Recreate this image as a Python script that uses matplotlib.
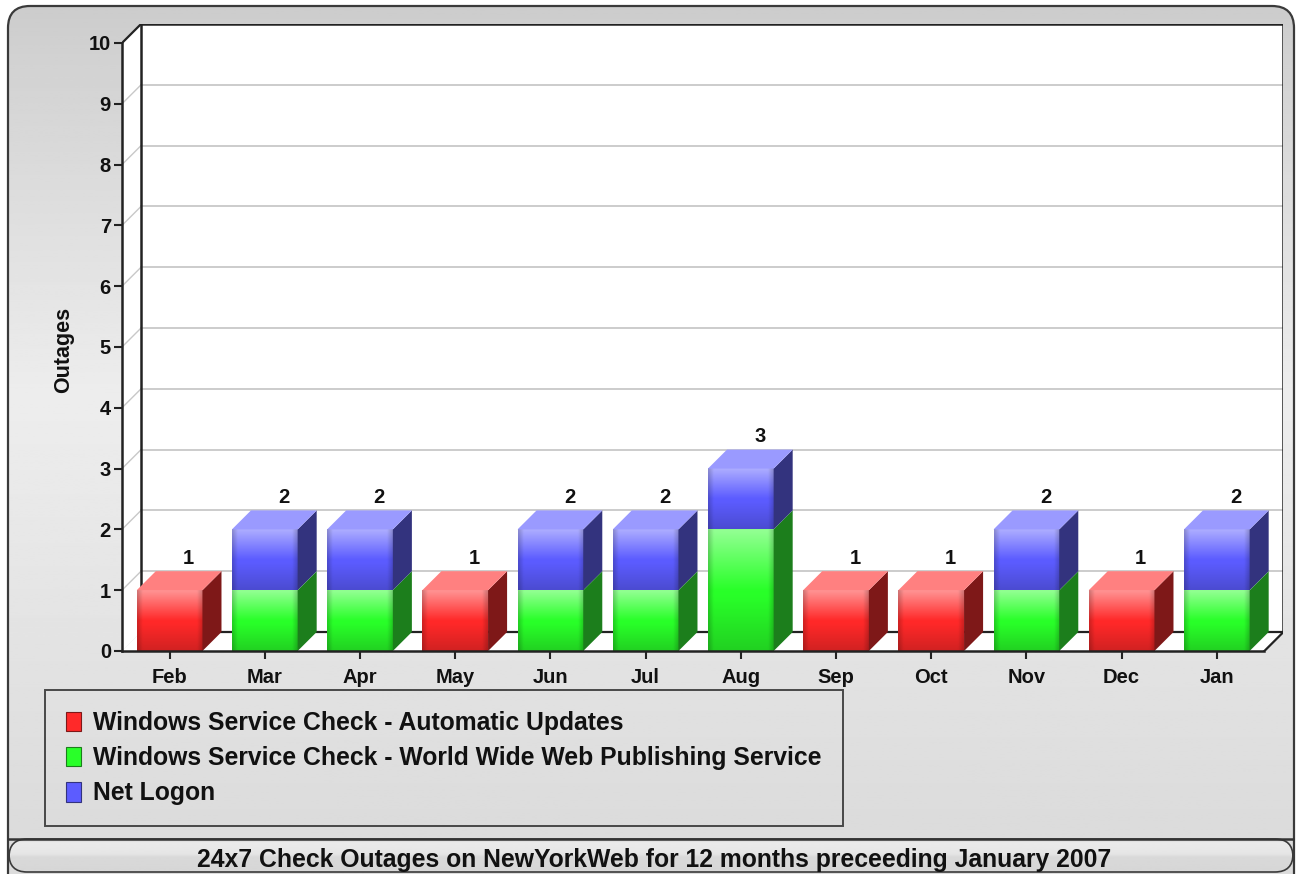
import numpy as np
import matplotlib
matplotlib.use('Agg')
import matplotlib.pyplot as plt
from matplotlib.patches import Polygon, Rectangle, FancyBboxPatch

months = ['Feb', 'Mar', 'Apr', 'May', 'Jun', 'Jul', 'Aug', 'Sep', 'Oct', 'Nov', 'Dec', 'Jan']
auto_updates = [1, 0, 0, 1, 0, 0, 0, 1, 1, 0, 1, 0]
www_publishing = [0, 1, 1, 0, 1, 1, 2, 0, 0, 1, 0, 1]
net_logon = [0, 1, 1, 0, 1, 1, 1, 0, 0, 1, 0, 1]
series_names = ['Windows Service Check - Automatic Updates',
                'Windows Service Check - World Wide Web Publishing Service',
                'Net Logon']
y_ticks = list(range(0, 11))
title = '24x7 Check Outages on NewYorkWeb for 12 months preceeding January 2007'

# front / top / side shades for each series
front = [(1.0, 0.16, 0.16), (0.16, 1.0, 0.16), (0.36, 0.36, 1.0)]
top = ['#ff8080', '#80ff80', '#9a9aff']
side = ['#7e1818', '#1c7e1c', '#33337e']

plt.rcParams['font.family'] = ['Liberation Sans', 'DejaVu Sans']
plt.rcParams['font.weight'] = 'bold'

W, H = 1297, 874
fig = plt.figure(figsize=(W / 100, H / 100), dpi=100)
fig.patch.set_facecolor('white')

# ---- background panel (pixel coords) ----
bg = fig.add_axes([0, 0, 1, 1], zorder=0)
bg.set_xlim(0, W)
bg.set_ylim(H, 0)
bg.axis('off')

rows = np.linspace(0, 1, 300)
shade = np.interp(rows, [0, 0.05, 0.45, 0.95, 1], [0.80, 0.82, 0.93, 0.86, 0.86])
grad = np.repeat(shade[:, None], 2, axis=1)
outer = FancyBboxPatch((8, 6), W - 11, H + 40, boxstyle='round,pad=0,rounding_size=22',
                       fc='none', ec='#3a3a3a', lw=1.6, zorder=3)
bg.add_patch(outer)
im = bg.imshow(grad, cmap='gray', vmin=0, vmax=1, extent=(8, W - 3, H, 6),
               aspect='auto', zorder=1)
im.set_clip_path(outer)

# title strip
band_rows = np.linspace(0, 1, 60)
band_shade = np.interp(band_rows, [0, 0.1, 0.45, 0.55, 1], [0.80, 0.92, 0.90, 0.85, 0.84])
band = FancyBboxPatch((9, 839), W - 13, 33, boxstyle='round,pad=0,rounding_size=18',
                      fc='none', ec='#3a3a3a', lw=1.2, zorder=4)
bg.add_patch(band)
bim = bg.imshow(np.repeat(band_shade[:, None], 2, axis=1), cmap='gray', vmin=0, vmax=1,
                extent=(9, W - 4, 872, 839), aspect='auto', zorder=2)
bim.set_clip_path(band)
bg.plot([9, W - 4], [839, 839], color='#333333', lw=1.8, zorder=5)
bg.text(654, 860, title, ha='center', va='center', fontsize=17.8, fontweight='bold',
        color='#111111', zorder=6)

# ---- chart axes: front plane -0.5..11.5 x 0..10, depth offset dx, dy ----
dx, dy = 0.2, 0.3125
bw = 0.69
xl, xr = -0.5, len(months) - 0.5
px_l, px_r = 122, 122 + (xr - xl + dx) * 95.2
py_b, py_t = 651, 651 - (10 + dy) * 60.8
ax = fig.add_axes([px_l / W, (H - py_b) / H, (px_r - px_l) / W, (py_b - py_t) / H], zorder=2)
ax.set_facecolor('none')
ax.set_xlim(xl, xr + dx)
ax.set_ylim(0, 10 + dy)

edge = '#222222'
ymax = y_ticks[-1]
# back wall, left wall, floor
ax.add_patch(Rectangle((xl + dx, dy), xr - xl, ymax, fc='white', ec='none', zorder=0))
ax.add_patch(Polygon([(xl, 0), (xl + dx, dy), (xl + dx, ymax + dy), (xl, ymax)],
                     closed=True, fc='white', ec='none', zorder=0))
ax.add_patch(Polygon([(xl, 0), (xr, 0), (xr + dx, dy), (xl + dx, dy)],
                     closed=True, fc='white', ec='none', zorder=0))
for v in y_ticks[1:-1]:
    ax.plot([xl + dx, xr + dx], [v + dy, v + dy], color='#c8c8c8', lw=1.3, zorder=1)
    ax.plot([xl, xl + dx], [v, v + dy], color='#c8c8c8', lw=1.0, zorder=1)
ax.plot([xl + dx, xl + dx, xr + dx, xr + dx], [dy, ymax + dy, ymax + dy, dy],
        color=edge, lw=1.8, zorder=1)
ax.plot([xl, xl + dx], [ymax, ymax + dy], color=edge, lw=1.6, zorder=1)
ax.plot([xl + dx, xr + dx], [dy, dy], color=edge, lw=1.6, zorder=1)
ax.plot([xr, xr + dx], [0, dy], color=edge, lw=1.6, zorder=1)


def face_gradient(rgb, n=80, m=40):
    t = np.linspace(0, 1, n)[:, None]
    s = np.linspace(0, 1, m)[None, :]
    light = np.clip(0.5 * (1 - t / 0.5), 0, None)
    dark = np.clip(0.18 * (t - 0.55) / 0.45, 0, None)
    edge_dark = 0.18 * np.clip(1 - np.minimum(s, 1 - s) / 0.08, 0, None)
    img = np.empty((n, m, 3))
    for k in range(3):
        c = rgb[k] + (1 - rgb[k]) * light
        img[:, :, k] = c * (1 - dark) * (1 - edge_dark)
    return np.clip(img, 0, 1)


stacks = [auto_updates, www_publishing, net_logon]
totals = np.sum(stacks, axis=0)
for i in range(len(months)):
    base = 0
    x0, x1 = i - bw / 2, i + bw / 2
    for s, vals in enumerate(stacks):
        v = vals[i]
        if v == 0:
            continue
        h = base + v
        ax.imshow(face_gradient(front[s]), extent=(x0, x1, base, h), aspect='auto',
                  interpolation='bilinear', zorder=3)
        ax.add_patch(Polygon([(x1, base), (x1 + dx, base + dy), (x1 + dx, h + dy), (x1, h)],
                             closed=True, fc=side[s], ec='none', zorder=3))
        ax.add_patch(Polygon([(x0, h), (x1, h), (x1 + dx, h + dy), (x0 + dx, h + dy)],
                             closed=True, fc=top[s], ec='none', zorder=3))
        base = h
    ax.text(i + dx, totals[i] + dy + 0.06, str(totals[i]), ha='center', va='bottom',
            fontsize=14.5, fontweight='bold', color='#111111', zorder=4)

ax.set_xlim(xl, xr + dx)
ax.set_ylim(0, ymax + dy)

for sp in ['top', 'right']:
    ax.spines[sp].set_visible(False)
ax.spines['left'].set_bounds(0, ymax)
ax.spines['bottom'].set_bounds(xl, xr)
for sp in ['left', 'bottom']:
    ax.spines[sp].set_color(edge)
    ax.spines[sp].set_linewidth(1.8)
    ax.spines[sp].set_zorder(5)
ax.set_yticks(y_ticks)
ax.set_xticks(range(len(months)))
ax.set_xticklabels(months)
ax.tick_params(axis='both', length=6, width=1.5, color=edge, labelsize=14.5,
               labelcolor='#111111')
ax.tick_params(axis='x', pad=6)
ax.tick_params(axis='y', pad=2)
for lab in ax.get_xticklabels() + ax.get_yticklabels():
    lab.set_fontweight('bold')
ax.set_ylabel('Outages', fontsize=15.5, fontweight='bold', color='#111111')
ax.yaxis.set_label_coords(-0.041, 0.48)

# legend
handles = [Rectangle((0, 0), 1, 1, fc=front[s], ec=side[s], lw=0.8) for s in range(3)]
leg = fig.legend(handles, series_names, loc='upper left',
                 bbox_to_anchor=(45 / W, 1 - 690 / H), bbox_transform=fig.transFigure,
                 prop={'size': 17.8, 'weight': 'bold'}, frameon=True, fancybox=False,
                 handlelength=0.6, handleheight=0.85, handletextpad=0.5,
                 labelspacing=0.45, borderpad=0.85, borderaxespad=0)
leg.get_frame().set_edgecolor('#222222')
leg.get_frame().set_facecolor('none')
leg.get_frame().set_linewidth(1.4)
leg.set_zorder(5)
for t in leg.get_texts():
    t.set_color('#111111')

fig.savefig('out.png', dpi=100, facecolor=fig.get_facecolor())
